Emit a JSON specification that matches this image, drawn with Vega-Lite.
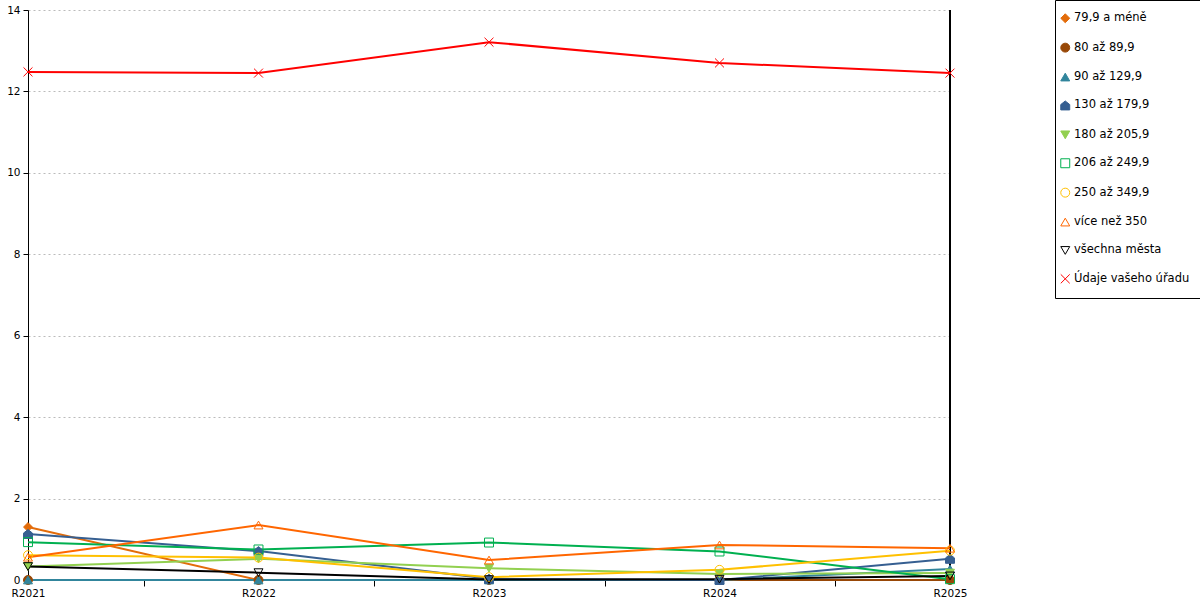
{
  "$schema": "https://vega.github.io/schema/vega-lite/v6.json",
  "width": 922,
  "height": 570,
  "autosize": {"type": "none"},
  "padding": {"left": 28, "top": 10, "right": 250, "bottom": 20},
  "background": "white",
  "config": {
    "view": {"stroke": null},
    "font": "DejaVu Sans",
    "axis": {"labelFont": "DejaVu Sans", "labelFontSize": 10.5, "labelColor": "black", "domainColor": "black", "tickColor": "black", "title": null},
    "legend": {"labelFont": "DejaVu Sans", "labelFontSize": 11.5, "labelColor": "black"}
  },
  "data": {
    "values": [
      {"rok": "R2021", "serie": "79,9 a méně", "hodnota": 1.30},
      {"rok": "R2022", "serie": "79,9 a méně", "hodnota": 0},
      {"rok": "R2023", "serie": "79,9 a méně", "hodnota": 0},
      {"rok": "R2024", "serie": "79,9 a méně", "hodnota": 0},
      {"rok": "R2025", "serie": "79,9 a méně", "hodnota": 0},
      {"rok": "R2021", "serie": "80 až 89,9", "hodnota": 0},
      {"rok": "R2022", "serie": "80 až 89,9", "hodnota": 0},
      {"rok": "R2023", "serie": "80 až 89,9", "hodnota": 0},
      {"rok": "R2024", "serie": "80 až 89,9", "hodnota": 0},
      {"rok": "R2025", "serie": "80 až 89,9", "hodnota": 0},
      {"rok": "R2021", "serie": "90 až 129,9", "hodnota": 0},
      {"rok": "R2022", "serie": "90 až 129,9", "hodnota": 0},
      {"rok": "R2023", "serie": "90 až 129,9", "hodnota": 0},
      {"rok": "R2024", "serie": "90 až 129,9", "hodnota": 0},
      {"rok": "R2025", "serie": "90 až 129,9", "hodnota": 0.27},
      {"rok": "R2021", "serie": "130 až 179,9", "hodnota": 1.13},
      {"rok": "R2022", "serie": "130 až 179,9", "hodnota": 0.71},
      {"rok": "R2023", "serie": "130 až 179,9", "hodnota": 0.03},
      {"rok": "R2024", "serie": "130 až 179,9", "hodnota": 0},
      {"rok": "R2025", "serie": "130 až 179,9", "hodnota": 0.52},
      {"rok": "R2021", "serie": "180 až 205,9", "hodnota": 0.33},
      {"rok": "R2022", "serie": "180 až 205,9", "hodnota": 0.52},
      {"rok": "R2023", "serie": "180 až 205,9", "hodnota": 0.29},
      {"rok": "R2024", "serie": "180 až 205,9", "hodnota": 0.15},
      {"rok": "R2025", "serie": "180 až 205,9", "hodnota": 0.17},
      {"rok": "R2021", "serie": "206 až 249,9", "hodnota": 0.93},
      {"rok": "R2022", "serie": "206 až 249,9", "hodnota": 0.75},
      {"rok": "R2023", "serie": "206 až 249,9", "hodnota": 0.92},
      {"rok": "R2024", "serie": "206 až 249,9", "hodnota": 0.70},
      {"rok": "R2025", "serie": "206 až 249,9", "hodnota": 0.02},
      {"rok": "R2021", "serie": "250 až 349,9", "hodnota": 0.61},
      {"rok": "R2022", "serie": "250 až 349,9", "hodnota": 0.55},
      {"rok": "R2023", "serie": "250 až 349,9", "hodnota": 0.07},
      {"rok": "R2024", "serie": "250 až 349,9", "hodnota": 0.25},
      {"rok": "R2025", "serie": "250 až 349,9", "hodnota": 0.72},
      {"rok": "R2021", "serie": "více než 350", "hodnota": 0.56},
      {"rok": "R2022", "serie": "více než 350", "hodnota": 1.35},
      {"rok": "R2023", "serie": "více než 350", "hodnota": 0.49},
      {"rok": "R2024", "serie": "více než 350", "hodnota": 0.86},
      {"rok": "R2025", "serie": "více než 350", "hodnota": 0.78},
      {"rok": "R2021", "serie": "všechna města", "hodnota": 0.33},
      {"rok": "R2022", "serie": "všechna města", "hodnota": 0.18},
      {"rok": "R2023", "serie": "všechna města", "hodnota": 0.01},
      {"rok": "R2024", "serie": "všechna města", "hodnota": 0.02},
      {"rok": "R2025", "serie": "všechna města", "hodnota": 0.10},
      {"rok": "R2021", "serie": "Údaje vašeho úřadu", "hodnota": 12.48},
      {"rok": "R2022", "serie": "Údaje vašeho úřadu", "hodnota": 12.45},
      {"rok": "R2023", "serie": "Údaje vašeho úřadu", "hodnota": 13.21},
      {"rok": "R2024", "serie": "Údaje vašeho úřadu", "hodnota": 12.70},
      {"rok": "R2025", "serie": "Údaje vašeho úřadu", "hodnota": 12.45}
    ]
  },
  "encoding": {
    "x": {
      "field": "rok", "type": "ordinal",
      "scale": {"type": "point", "padding": 0},
      "axis": {"labelAngle": 0, "domain": false, "tickOffset": -115, "labelOffset": 115, "tickSize": 6, "labelPadding": 2, "grid": false}
    },
    "y": {
      "field": "hodnota", "type": "quantitative",
      "scale": {"domain": [0, 14], "nice": false, "zero": true},
      "axis": {"values": [0, 2, 4, 6, 8, 10, 12, 14], "tickSize": 5, "labelPadding": 3, "grid": true, "gridColor": "#bbbbbb", "gridDash": [2, 3], "domainColor": "black"}
    },
    "stroke": {
      "field": "serie", "type": "nominal",
      "scale": {
        "domain": ["79,9 a méně", "80 až 89,9", "90 až 129,9", "130 až 179,9", "180 až 205,9", "206 až 249,9", "250 až 349,9", "více než 350", "všechna města", "Údaje vašeho úřadu"],
        "range": ["#E36C0A", "#984807", "#31859C", "#365F91", "#92D050", "#00B050", "#FFC000", "#FF6600", "#000000", "#FF0000"]
      },
      "legend": {
        "title": null, "orient": "none", "legendX": 1027, "legendY": -10,
        "strokeColor": "black", "padding": 12.5, "rowPadding": 15.4, "symbolOffset": -8, "labelOffset": 3, "symbolSize": 80, "symbolStrokeWidth": 1
      }
    }
  },
  "layer": [
    {
      "mark": {"type": "rule", "color": "black", "strokeWidth": 1},
      "encoding": {"x": {"datum": "R2025"}, "y": null, "stroke": null}
    },
    {
      "mark": {"type": "line", "strokeWidth": 2}
    },
    {
      "mark": {"type": "point", "strokeWidth": 1, "opacity": 1, "size": 80},
      "encoding": {
        "fill": {
          "field": "serie", "type": "nominal",
          "scale": {
            "domain": ["79,9 a méně", "80 až 89,9", "90 až 129,9", "130 až 179,9", "180 až 205,9", "206 až 249,9", "250 až 349,9", "více než 350", "všechna města", "Údaje vašeho úřadu"],
            "range": ["#E36C0A", "#984807", "#31859C", "#365F91", "#92D050", "transparent", "transparent", "transparent", "transparent", "transparent"]
          }
        },
        "shape": {
          "field": "serie", "type": "nominal",
          "scale": {
            "domain": ["79,9 a méně", "80 až 89,9", "90 až 129,9", "130 až 179,9", "180 až 205,9", "206 až 249,9", "250 až 349,9", "více než 350", "všechna města", "Údaje vašeho úřadu"],
            "range": ["diamond", "circle", "triangle-up", "M0,-1L1,-0.2L1,1L-1,1L-1,-0.2Z", "triangle-down", "square", "circle", "triangle-up", "triangle-down", "M-1,-1L1,1M-1,1L1,-1"]
          }
        }
      }
    }
  ]
}
